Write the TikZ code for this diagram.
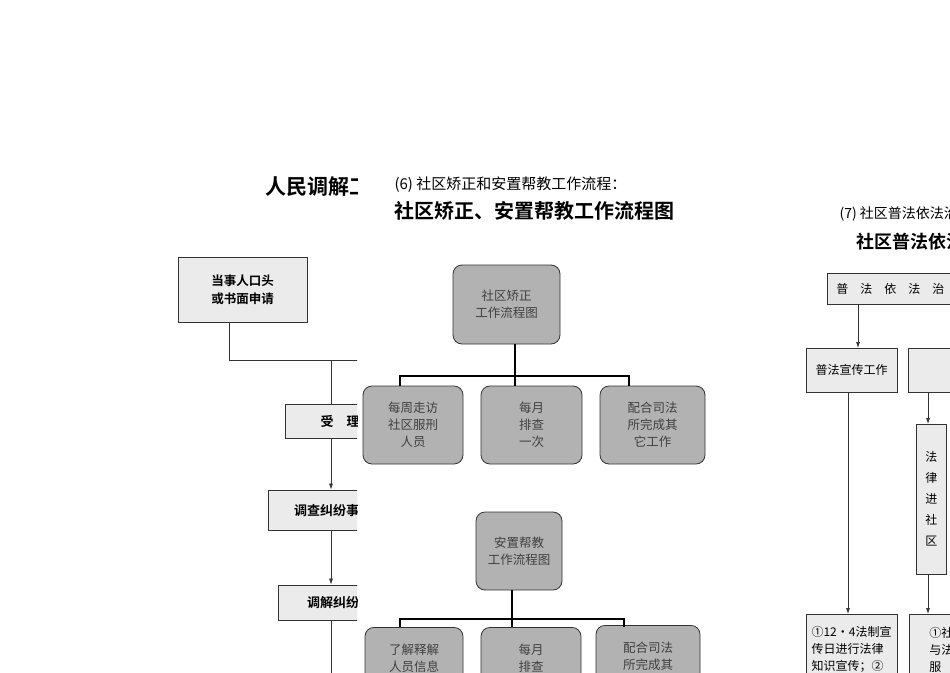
\documentclass[tikz,border=0pt]{standalone}
\usepackage{fontspec}
\setmainfont{Noto Sans CJK SC}
\newfontfamily\cjkb{Noto Sans CJK SC Bold}
\usetikzlibrary{arrows.meta}
\begin{document}
\begin{tikzpicture}[x=1pt,y=-1pt,
  sq/.style={draw=black!80,fill=black!8,line width=0.8pt,inner sep=0pt,font=\fontsize{12}{16}\selectfont,align=center},
  rb/.style={draw=black!80,fill=black!30,rounded corners=9pt,line width=0.8pt,inner sep=0pt,font=\fontsize{12.5}{17}\selectfont\color{black!75},align=center},
  ln/.style={draw=black!80,line width=0.7pt},
  ar/.style={ln,-{Latex[length=6pt,width=4pt]}},
  tk/.style={draw=black,line width=2pt}]
\useasboundingbox (0,0) rectangle (950,672);
\fill[white] (0,0) rectangle (950,672);
% left page (clipped)
\begin{scope}
\clip (0,0) rectangle (357,672);
\node[anchor=west,font=\cjkb\fontsize{21}{24}\selectfont] (t1) at (262,187) {人民调解工作流程图};
\node[sq,minimum width=129pt,minimum height=65pt,font=\cjkb\fontsize{12.5}{18}\selectfont] (l1) at (242.5,289.5) {当事人口头\\或书面申请};
\node[sq,minimum width=110pt,minimum height=34pt,font=\cjkb\fontsize{13}{16}\selectfont] (l2) at (340,421) {受\quad 理};
\node[sq,minimum width=130pt,minimum height=40pt,font=\cjkb\fontsize{13}{16}\selectfont] (l3) at (333,510) {调查纠纷事实};
\node[sq,minimum width=110pt,minimum height=35pt,font=\cjkb\fontsize{13}{16}\selectfont] (l4) at (333,602.5) {调解纠纷};
\coordinate (j1) at (229,360);
\coordinate (j2) at (331,360);
\coordinate (j3) at (370,360);
\coordinate (bot) at (331,680);
\draw[ln] (l1.south -| j1) -- (j1) -- (j3);
\draw[ln] (j2) -- (j2 |- l2.north);
\draw[ar] (l2.south -| j2) -- (l3.north -| j2);
\draw[ar] (l3.south -| j2) -- (l4.north -| j2);
\draw[ln] (l4.south -| j2) -- (bot);
\end{scope}
% middle page
\node[anchor=west,font=\fontsize{15}{18}\selectfont] (t2) at (391,185) {(6) 社区矫正和安置帮教工作流程：};
\node[anchor=west,font=\cjkb\fontsize{20}{24}\selectfont] (t3) at (391,211) {社区矫正、安置帮教工作流程图};
\begin{scope}
\clip (357,0) rectangle (790,672);
\node[rb,minimum width=107pt,minimum height=79pt] (a0) at (506.5,304.5) {社区矫正\\工作流程图};
\node[rb,minimum width=100pt,minimum height=78pt] (a1) at (413,425) {每周走访\\社区服刑\\人员};
\node[rb,minimum width=101pt,minimum height=78pt] (a2) at (531.5,425) {每月\\排查\\一次};
\node[rb,minimum width=105pt,minimum height=78pt] (a3) at (652.5,425) {配合司法\\所完成其\\它工作};
\coordinate (ha) at (515,376);
\draw[tk] (ha |- a0.south) -- (ha);
\draw[tk] (400,386) -- (400,376) -- (629,376) -- (629,386);
\draw[tk] (ha) -- (ha |- a2.north);
\node[rb,minimum width=86pt,minimum height=78pt] (b0) at (519,551) {安置帮教\\工作流程图};
\node[rb,minimum width=98pt,minimum height=78pt,anchor=north] (b1) at (414,627) {了解释解\\人员信息\\情况};
\node[rb,minimum width=100pt,minimum height=78pt,anchor=north] (b2) at (531,627) {每月\\排查\\一次};
\node[rb,minimum width=104pt,minimum height=78pt,anchor=north] (b3) at (648,625) {配合司法\\所完成其\\它工作};
\coordinate (hb) at (512,619);
\draw[tk] (hb |- b0.south) -- (hb);
\draw[tk] (400,627) -- (400,619) -- (624,619) -- (624,627);
\draw[tk] (hb) -- (hb |- b2.north);
\end{scope}
% right page
\begin{scope}
\clip (790,0) rectangle (950,672);
\node[anchor=west,font=\fontsize{14}{18}\selectfont] (t4) at (836,214) {(7) 社区普法依法治理工作流程：};
\node[anchor=west,font=\cjkb\fontsize{18}{22}\selectfont] (t5) at (853,242) {社区普法依法治理工作流程图};
\node[sq,minimum width=200pt,minimum height=31pt,anchor=west] (r0) at (827,288.5) {\hspace*{-50pt}普\quad 法\quad 依\quad 法\quad 治\quad 理};
\node[sq,minimum width=91pt,minimum height=44pt] (r1) at (851.5,370) {普法宣传工作};
\node[sq,minimum width=120pt,minimum height=44pt,anchor=west] (r2) at (908,370) {\hspace*{40pt}依法治理工作};
\node[sq,minimum width=30pt,minimum height=150pt,anchor=west,font=\fontsize{12}{21}\selectfont] (r3) at (916,499) {法\\律\\进\\社\\区};
\node[sq,minimum width=91pt,minimum height=70pt,anchor=north,align=left,font=\fontsize{12}{17}\selectfont] (r4) at (851.5,614) {①12·4法制宣\\传日进行法律\\知识宣传；②};
\node[sq,minimum width=100pt,minimum height=70pt,anchor=north west,align=left,font=\fontsize{12}{17}\selectfont] (r5) at (909,614) {①社区居民\\与法律工作\\服\quad 务};
\draw[ar] (858,304) -- (858,348);
\draw[ar] (928,392) -- (928,424);
\draw[ar] (848,392) -- (848,614);
\draw[ar] (928,574) -- (928,614);
\end{scope}
\end{tikzpicture}
\end{document}
